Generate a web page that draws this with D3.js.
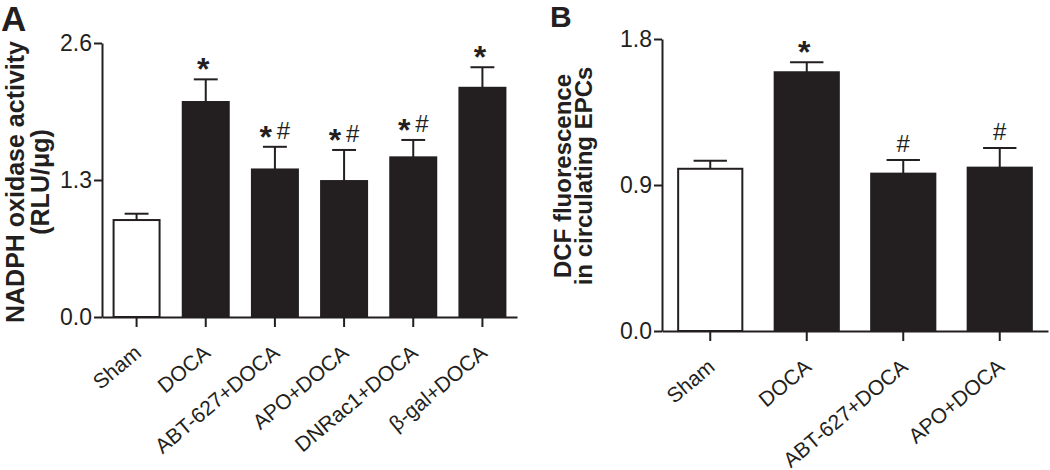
<!DOCTYPE html>
<html>
<head>
<meta charset="utf-8"/>
<script src="https://cdn.jsdelivr.net/npm/d3@7"></script>
<style>
  body { margin: 0; background: #fff; }
  svg { font-family: Arial, "Liberation Sans", sans-serif; }
  .axis path, .axis line { stroke: #231f20; stroke-width: 2; }
  .axis text { fill: #231f20; font-size: 23px; }
</style>
</head>
<body>
<svg id="chart" width="1050" height="470"></svg>
<script>
// panel A
var catsA = ["Sham", "DOCA", "ABT-627+DOCA", "APO+DOCA", "DNRac1+DOCA", "β-gal+DOCA"];
var meanA = [0.92, 2.04, 1.40, 1.29, 1.515, 2.175];
var semA  = [0.06, 0.215, 0.215, 0.295, 0.165, 0.195];
var sigA  = ["", "*", "*#", "*#", "*#", "*"];
var ticksA = [0, 1.3, 2.6];

// panel B
var catsB = ["Sham", "DOCA", "ABT-627+DOCA", "APO+DOCA"];
var meanB = [1.0, 1.595, 0.97, 1.007];
var semB  = [0.05, 0.062, 0.084, 0.121];
var sigB  = ["", "*", "#", "#"];
var ticksB = [0, 0.9, 1.8];

var ink = "#231f20";
var svg = d3.select("#chart");

function panel(opt) {
  var g = svg.append("g");
  var x = d3.scaleBand().domain(opt.cats).range(opt.xr).paddingInner(0.335).paddingOuter(0.1675);
  var y = d3.scaleLinear().domain(opt.yd).range(opt.yr);
  var rows = opt.cats.map(function(c, i) {
    return {cat: c, mean: opt.mean[i], sem: opt.sem[i], sig: opt.sig[i], i: i};
  });
  var bw = x.bandwidth();
  var capW = bw * 0.52;

  // error bars (upward only)
  g.selectAll(".err").data(rows).enter().append("line")
    .attr("x1", function(d) { return x(d.cat) + bw / 2; })
    .attr("x2", function(d) { return x(d.cat) + bw / 2; })
    .attr("y1", function(d) { return y(d.mean); })
    .attr("y2", function(d) { return y(d.mean + d.sem); })
    .attr("stroke", ink).attr("stroke-width", 2);
  g.selectAll(".cap").data(rows).enter().append("line")
    .attr("x1", function(d) { return x(d.cat) + bw / 2 - capW / 2; })
    .attr("x2", function(d) { return x(d.cat) + bw / 2 + capW / 2; })
    .attr("y1", function(d) { return y(d.mean + d.sem); })
    .attr("y2", function(d) { return y(d.mean + d.sem); })
    .attr("stroke", ink).attr("stroke-width", 2);

  g.selectAll(".bar").data(rows).enter().append("rect")
    .attr("x", function(d) { return x(d.cat); })
    .attr("y", function(d) { return y(d.mean); })
    .attr("width", bw)
    .attr("height", function(d) { return y(0) - y(d.mean); })
    .attr("fill", function(d) { return d.i == 0 ? "#fff" : ink; })
    .attr("stroke", ink).attr("stroke-width", 2);

  // significance marks
  var sig = g.selectAll(".sig").data(rows.filter(function(d) { return d.sig; })).enter().append("text")
    .attr("x", function(d) { return x(d.cat) + bw / 2; })
    .attr("y", function(d) { return y(d.mean + d.sem) - 17 + 9; })
    .attr("text-anchor", "middle").attr("fill", ink);
  sig.each(function(d) {
    var t = d3.select(this);
    d.sig.split("").forEach(function(ch) {
      if (ch == "*") {
        t.append("tspan").attr("dy", 9).attr("font-size", 32).attr("font-weight", "bold").text("*");
        t.append("tspan").attr("dy", -9).attr("font-size", 24).text("\u2009");
      } else {
        t.append("tspan").attr("font-size", 24).text("#");
      }
    });
  });

  var yAxis = d3.axisLeft(y).tickValues(opt.ticks).tickFormat(d3.format(".1f"))
    .tickSize(8).tickSizeOuter(0).tickPadding(2);
  g.append("g").attr("class", "axis").attr("transform", "translate(" + opt.xr[0] + ",0)").call(yAxis);

  var xAxis = d3.axisBottom(x).tickSize(10).tickSizeOuter(0).tickFormat("");
  g.append("g").attr("class", "axis").attr("transform", "translate(0," + y(0) + ")").call(xAxis);

  g.selectAll(".xlab").data(rows).enter().append("text")
    .attr("transform", function(d) {
      return "translate(" + (x(d.cat) + bw / 2 + 6) + "," + (y(0) + 38) + ") rotate(-40)";
    })
    .attr("text-anchor", "end").attr("font-size", 21).attr("fill", ink)
    .text(function(d) { return d.cat; });

  // y title, two lines
  var cy = opt.titleY;
  opt.title.forEach(function(line, k) {
    g.append("text")
      .attr("transform", "translate(" + (opt.titleX + k * opt.titleGap) + "," + cy + ") rotate(-90)")
      .attr("text-anchor", "middle").attr("font-size", opt.titleSize).attr("font-weight", "bold")
      .attr("fill", ink).text(line);
  });

  g.append("text").attr("x", opt.letter[0]).attr("y", opt.letter[1])
    .attr("font-size", opt.letter[2]).attr("font-weight", "bold").attr("fill", ink)
    .text(opt.letter[3]);
}

panel({
  cats: catsA, mean: meanA, sem: semA, sig: sigA, ticks: ticksA,
  xr: [102, 517], yd: [0, 2.6], yr: [317, 43],
  title: ["NADPH oxidase activity", "(RLU/\u03bcg)"], titleX: 24, titleGap: 25, titleY: 182, titleSize: 25,
  letter: [1, 31, 35, "A"]
});

panel({
  cats: catsB, mean: meanB, sem: semB, sig: sigB, ticks: ticksB,
  xr: [662, 1048], yd: [0, 1.8], yr: [331, 39],
  title: ["DCF fluorescence", "in circulating EPCs"], titleX: 571, titleGap: 21, titleY: 176, titleSize: 24,
  letter: [550, 27, 30, "B"]
});
</script>
</body>
</html>
